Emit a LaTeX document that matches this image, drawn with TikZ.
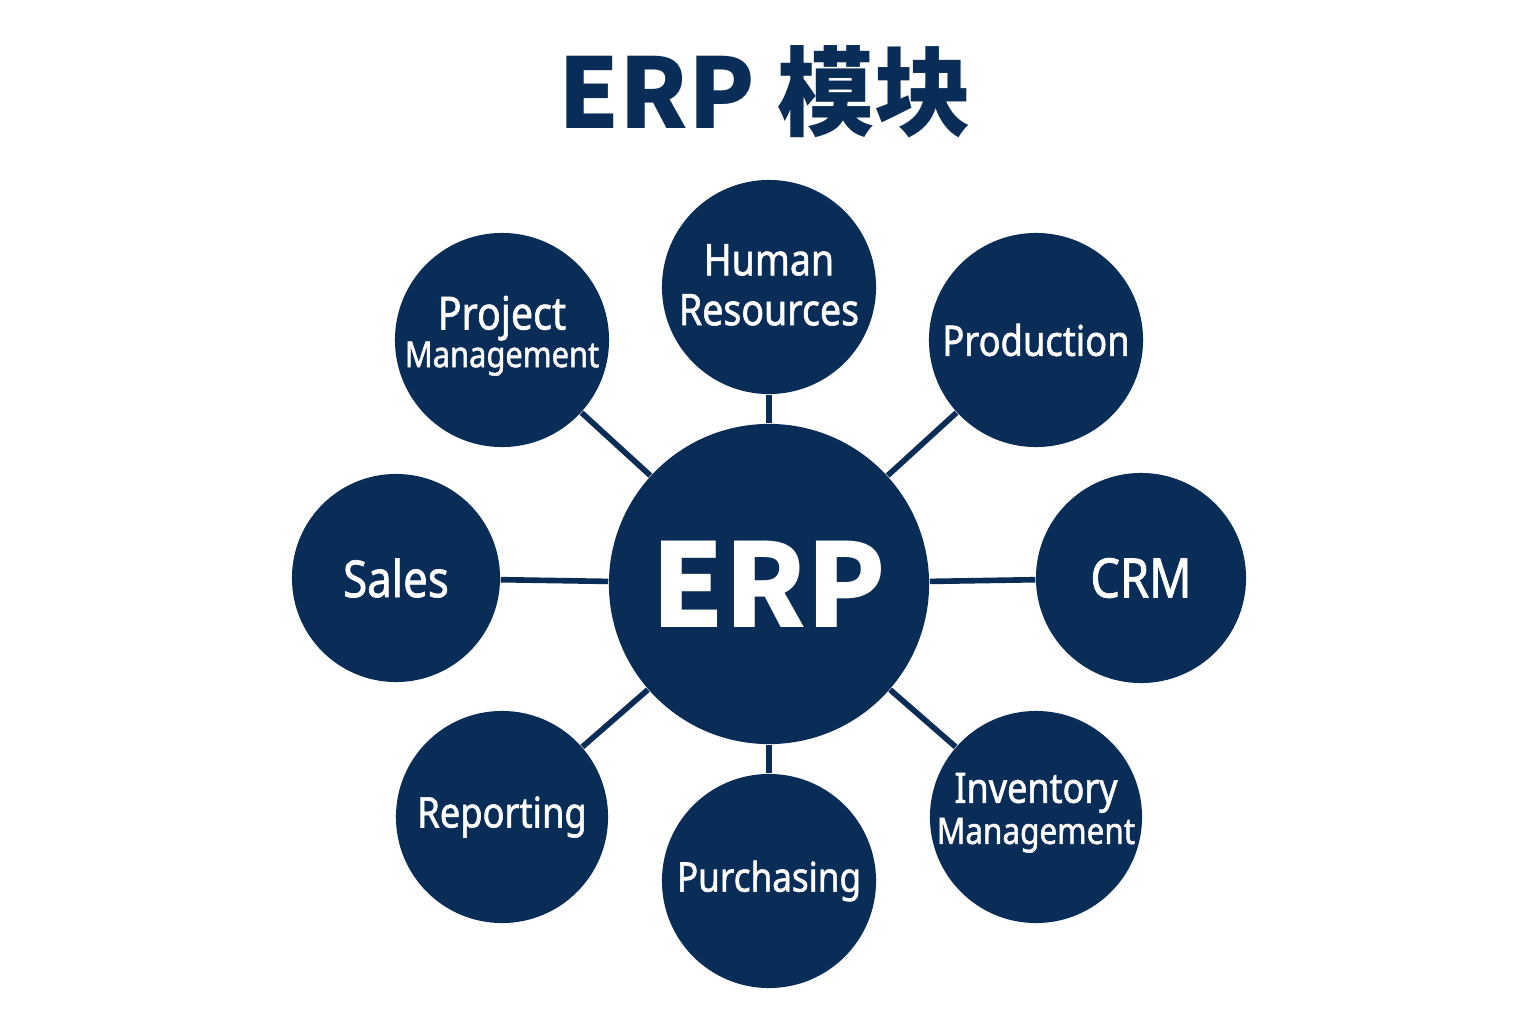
\documentclass[tikz,border=0pt]{standalone}
\usepackage{fontspec}
\newfontfamily\cjkfont{Noto Sans CJK SC}
\newfontfamily\labelfont{Noto Sans}[FakeStretch=0.86,FakeBold=1.3]
\definecolor{navy}{HTML}{0A2D57}
\begin{document}
\begin{tikzpicture}[x=0.01cm,y=-0.01cm,
  module/.style={circle,fill=navy,inner sep=0pt,minimum size=#1},
  lab/.style={text=white,inner sep=0pt,align=center,
    font=\labelfont\fontsize{12pt}{14.2pt}\selectfont},
  link/.style={draw=navy,line width=1.6pt}]
\useasboundingbox (0,0) rectangle (1536,1024);
\fill[white] (0,0) rectangle (1536,1024);
\node[font=\cjkfont\bfseries\fontsize{27.6pt}{32pt}\selectfont,text=navy] (title) at (765,92) {ERP 模块};
\node[module=3.2cm,text=white,font=\cjkfont\bfseries\fontsize{33pt}{40pt}\selectfont] (erp) at (769,584) {ERP};
\node[module=2.14cm,label={[lab,font=\labelfont\fontsize{12.4pt}{14.2pt}\selectfont,yshift=0.6pt]center:{Human\\Resources}}] (hr) at (769,287) {};
\node[module=2.14cm,label={[lab,yshift=1.2pt]center:{{\fontsize{13pt}{14pt}\selectfont Project}\\[-3.5pt]{\fontsize{10.2pt}{12pt}\selectfont Management}}}] (pm) at (502,340) {};
\node[module=2.14cm,label={[lab]center:Production}] (prod) at (1036,340) {};
\node[module=2.08cm,label={[lab,font=\labelfont\fontsize{14.5pt}{16pt}\selectfont]center:Sales}] (sales) at (396,578) {};
\node[module=2.1cm,label={[lab,font=\labelfont\fontsize{15.5pt}{18pt}\selectfont]center:CRM}] (crm) at (1141,578) {};
\node[module=2.12cm,label={[lab]center:Reporting}] (rep) at (502,817) {};
\node[module=2.14cm,label={[lab,font=\labelfont\fontsize{11.6pt}{14pt}\selectfont]center:Purchasing}] (pur) at (769,881) {};
\node[module=2.12cm,label={[lab,yshift=1.2pt]center:{{\fontsize{11.9pt}{14pt}\selectfont Inventory}\\[-2.5pt]{\fontsize{10.4pt}{12pt}\selectfont Management}}}] (inv) at (1036,817) {};
\foreach \m in {hr,pm,prod,sales,crm,rep,pur,inv}{
  \draw[link] (erp) -- (\m);
}
\end{tikzpicture}
\end{document}
